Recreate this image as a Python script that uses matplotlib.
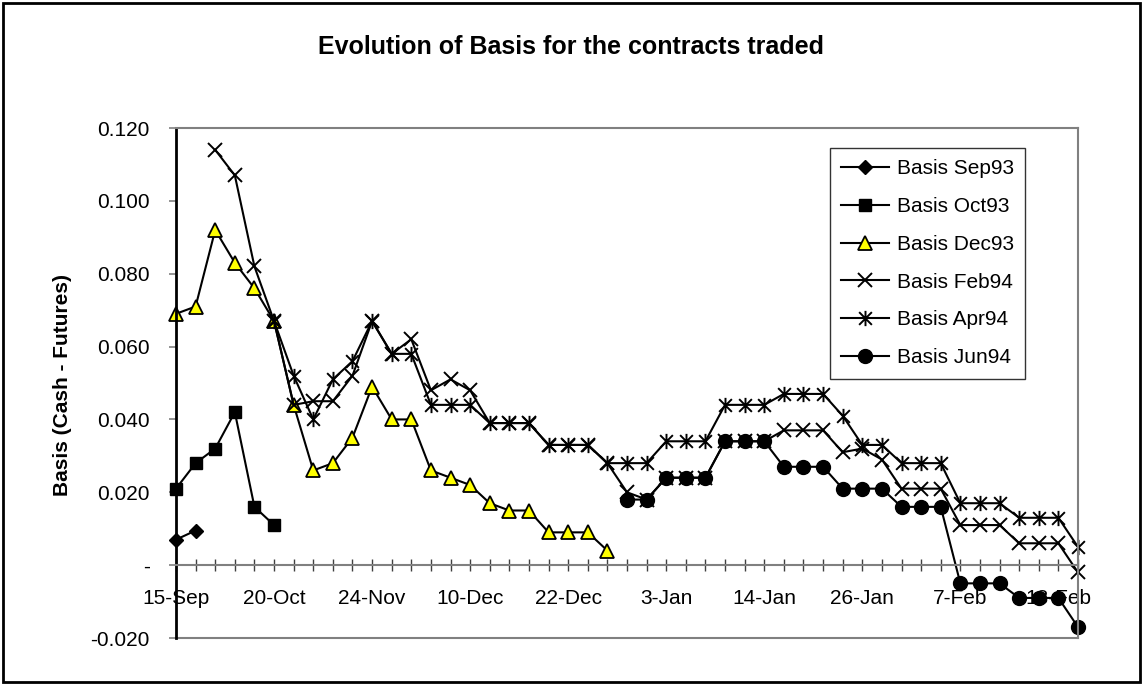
import numpy as np
import matplotlib
matplotlib.use("Agg")
import matplotlib.pyplot as plt
from matplotlib.path import Path
from matplotlib.patches import Rectangle
from matplotlib.ticker import FuncFormatter

plt.rcParams["font.family"] = ["Liberation Sans", "DejaVu Sans"]

N_POINTS = 47
DATE_LABELS = ["15-Sep", "20-Oct", "24-Nov", "10-Dec", "22-Dec",
               "3-Jan", "14-Jan", "26-Jan", "7-Feb", "18-Feb"]
LABEL_EVERY = 5

SERIES_NAMES = ["Basis Sep93", "Basis Oct93", "Basis Dec93",
                "Basis Feb94", "Basis Apr94", "Basis Jun94"]
SERIES_START = [0, 0, 0, 2, 5, 23]

sep93 = [0.007, 0.0095]
oct93 = [0.021, 0.028, 0.032, 0.042, 0.016, 0.011]
dec93 = [0.069, 0.071, 0.092, 0.083, 0.076, 0.067, 0.044, 0.026, 0.028,
         0.035, 0.049, 0.040, 0.040, 0.026, 0.024, 0.022, 0.017, 0.015,
         0.015, 0.009, 0.009, 0.009, 0.004]
feb94 = [0.114, 0.107, 0.082, 0.067, 0.044, 0.045, 0.045, 0.052, 0.067,
         0.058, 0.062, 0.048, 0.051, 0.048, 0.039, 0.039, 0.039, 0.033,
         0.033, 0.033, 0.028, 0.020, 0.018, 0.024, 0.024, 0.024, 0.034,
         0.034, 0.034, 0.037, 0.037, 0.037, 0.031, 0.032, 0.029, 0.021,
         0.021, 0.021, 0.011, 0.011, 0.011, 0.006, 0.006, 0.006, -0.002]
apr94 = [0.067, 0.052, 0.040, 0.051, 0.056, 0.067, 0.058, 0.058, 0.044,
         0.044, 0.044, 0.039, 0.039, 0.039, 0.033, 0.033, 0.033, 0.028,
         0.028, 0.028, 0.034, 0.034, 0.034, 0.044, 0.044, 0.044, 0.047,
         0.047, 0.047, 0.041, 0.033, 0.033, 0.028, 0.028, 0.028, 0.017,
         0.017, 0.017, 0.013, 0.013, 0.013, 0.005]
jun94 = [0.018, 0.018, 0.024, 0.024, 0.024, 0.034, 0.034, 0.034, 0.027,
         0.027, 0.027, 0.021, 0.021, 0.021, 0.016, 0.016, 0.016, -0.005,
         -0.005, -0.005, -0.009, -0.009, -0.009, -0.017]

SERIES_VALUES = [sep93, oct93, dec93, feb94, apr94, jun94]

# excel style asterisk: an x with a vertical bar
ASTERISK = Path([(-1, -1), (1, 1), (-1, 1), (1, -1), (0, -1.2), (0, 1.2)],
                [Path.MOVETO, Path.LINETO, Path.MOVETO, Path.LINETO,
                 Path.MOVETO, Path.LINETO])

STYLES = [
    dict(marker="D", ms=7, mfc="black", mec="black"),
    dict(marker="s", ms=9, mfc="black", mec="black"),
    dict(marker="^", ms=10, mfc="#FFFF00", mec="black", mew=1.3),
    dict(marker="x", ms=10.5, mfc="none", mec="black", mew=1.4),
    dict(marker=ASTERISK, ms=11, mfc="none", mec="black", mew=1.4),
    dict(marker="o", ms=10, mfc="black", mec="black"),
]

GREY = "#808080"

fig = plt.figure(figsize=(11.43, 6.85), dpi=100)
ax = fig.add_axes([176 / 1143, 1 - 638 / 685, 902 / 1143, 510 / 685])

for name, start, vals, st in zip(SERIES_NAMES, SERIES_START,
                                 SERIES_VALUES, STYLES):
    x = np.arange(start, start + len(vals))
    ax.plot(x, vals, color="black", lw=1.5, label=name, clip_on=False, **st)

ax.set_xlim(0, N_POINTS - 1)
ax.set_ylim(-0.02, 0.12)
ax.set_yticks(np.arange(-0.02, 0.1201, 0.02))
ax.yaxis.set_major_formatter(
    FuncFormatter(lambda v, p: "-" if abs(v) < 1e-9 else f"{v:.3f}"))

tick_labels = [""] * N_POINTS
for k, lab in enumerate(DATE_LABELS):
    tick_labels[k * LABEL_EVERY] = lab
ax.set_xticks(range(N_POINTS))
ax.set_xticklabels(tick_labels)

ax.spines["bottom"].set_position(("data", 0))
ax.spines["bottom"].set_color(GREY)
ax.spines["bottom"].set_linewidth(1.5)
ax.spines["top"].set_color(GREY)
ax.spines["right"].set_color(GREY)
ax.spines["top"].set_linewidth(1.5)
ax.spines["right"].set_linewidth(1.5)
ax.spines["left"].set_linewidth(2)
ax.axhline(-0.02, color=GREY, lw=1.5, clip_on=False, zorder=1)

ax.tick_params(axis="x", direction="inout", length=9, width=1,
               color="#404040", pad=12.5, labelsize=15)
ax.tick_params(axis="y", direction="out", length=5, width=1.2,
               color=GREY, pad=14, labelsize=15)

fig.text(0.5, 1 - 47 / 685, "Evolution of Basis for the contracts traded",
         ha="center", va="center", fontsize=18, fontweight="bold")
fig.text(63 / 1143, 1 - 385 / 685, "Basis (Cash - Futures)", rotation=90,
         ha="center", va="center", fontsize=15, fontweight="bold")

leg = ax.legend(loc="upper left", bbox_to_anchor=(0.725, 0.961),
                borderaxespad=0, fontsize=15, frameon=True, fancybox=False,
                handlelength=2.3, handletextpad=0.35, labelspacing=0.9,
                borderpad=0.55)
leg.get_frame().set_edgecolor("black")
leg.get_frame().set_linewidth(1)

fig.patches.append(Rectangle((0.003, 0.004), 0.994, 0.992,
                             transform=fig.transFigure, fill=False,
                             edgecolor="black", lw=2))

fig.savefig("out.png", dpi=100)
